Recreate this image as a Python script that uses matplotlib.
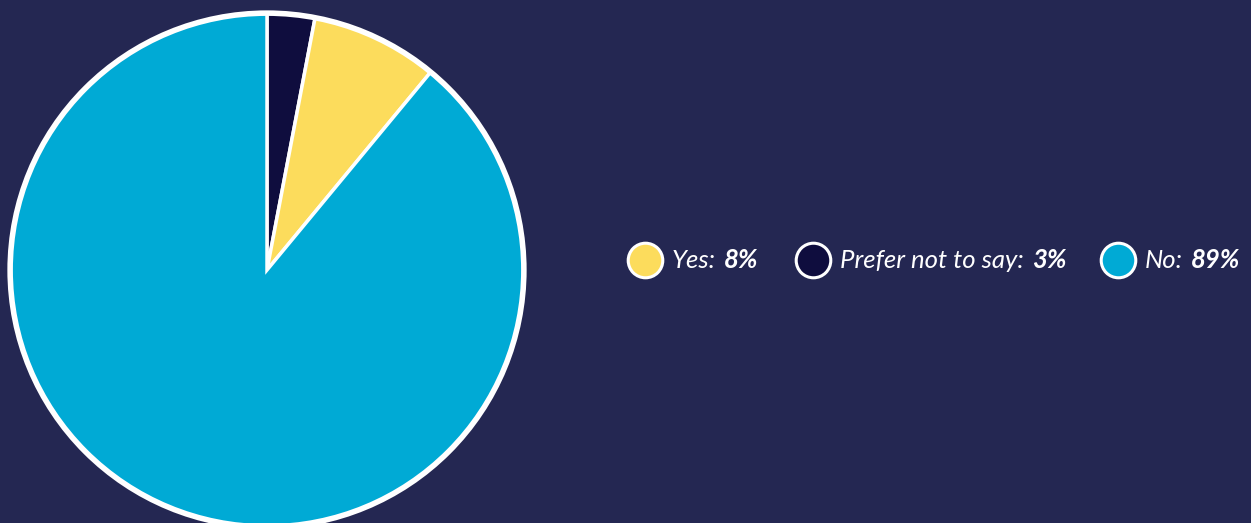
import matplotlib.pyplot as plt
from matplotlib.patches import Circle

# survey answers, clockwise from 12 o'clock
answers = ['Prefer not to say', 'Yes', 'No']
shares = [3, 8, 89]
colors = ['#0f0d3e', '#fcdc5c', '#00aad5']

# legend order
legend_order = ['Yes', 'Prefer not to say', 'No']

bg = '#242752'
W, H = 1251, 523

fig = plt.figure(figsize=(W / 100, H / 100), dpi=100, facecolor=bg)

# pie axes in pixel terms: 524px square, centre around (267, 270)
ax = fig.add_axes([5 / W, -9 / H, 524 / W, 524 / H])
ax.set_facecolor(bg)
ax.pie(shares, colors=colors, startangle=90, counterclock=False, radius=1.0,
       wedgeprops=dict(edgecolor='white', linewidth=2.5))
ax.add_patch(Circle((0, 0), 1.0, fill=False, edgecolor='white', linewidth=4))
ax.set_xlim(-1.02, 1.02)
ax.set_ylim(-1.02, 1.02)
ax.set_aspect('equal')
ax.axis('off')

# legend: circle marker, italic label, bold percentage
leg = fig.add_axes([0, 0, 1, 1], facecolor='none')
leg.set_xlim(0, W)
leg.set_ylim(H, 0)
leg.axis('off')

renderer = fig.canvas.get_renderer()
marker_x = [645, 813, 1118]
y = 260
font = dict(family=['Lato', 'DejaVu Sans'], style='italic', color='white', size=18.5)
for mx, name in zip(marker_x, legend_order):
    i = answers.index(name)
    leg.scatter([mx], [y], s=620, color=colors[i], edgecolor='white', linewidth=2.2, zorder=3)
    t = leg.text(mx + 27, y, name + ':', va='center', ha='left', weight='normal', **font)
    bb = t.get_window_extent(renderer=renderer)
    x_end = bb.x1 + 8
    leg.text(x_end, y, f'{shares[i]}%', va='center', ha='left', weight='bold', **font)

fig.savefig('out.png', dpi=100, facecolor=bg)
